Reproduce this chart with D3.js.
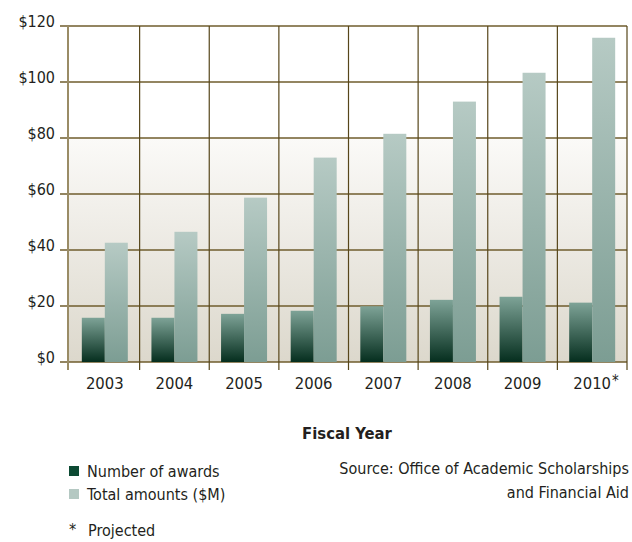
<!DOCTYPE html>
<html>
<head>
<meta charset="utf-8">
<script src="https://cdn.jsdelivr.net/npm/d3@7"></script>
<style>
  body { margin: 0; background: #fff; }
  text { font-family: "Liberation Sans Narrow", "DejaVu Sans Condensed", sans-serif; fill: #231f20; }
</style>
</head>
<body>
<div id="chart"></div>
<script>
// data
var years      = ["2003", "2004", "2005", "2006", "2007", "2008", "2009", "2010"];
var projected  = ["2010"];
var awards     = [15.8, 15.8, 17.2, 18.3, 19.9, 22.2, 23.3, 21.2];
var totals     = [42.6, 46.5, 58.7, 73.0, 81.5, 93.0, 103.3, 115.8];
var yTicks     = [0, 20, 40, 60, 80, 100, 120];
var seriesKeys = ["awards", "totals"];
var seriesNames = ["Number of awards", "Total amounts ($M)"];
var sourceLines = ["Source: Office of Academic Scholarships", "and Financial Aid"];

var w = 632, h = 542;
var svg = d3.select("#chart").append("svg")
    .attr("width", w)
    .attr("height", h);

var defs = svg.append("defs");
function grad(id, top, bottom) {
  var g = defs.append("linearGradient").attr("id", id)
      .attr("x1", 0).attr("y1", 0).attr("x2", 0).attr("y2", 1);
  g.append("stop").attr("offset", "0%").attr("stop-color", top);
  g.append("stop").attr("offset", "100%").attr("stop-color", bottom);
}
grad("bg", "#fbfaf8", "#dcd8cc");
grad("darkBar", "#7ea397", "#052e1e");
grad("lightBar", "#b6cac4", "#7c9d93");

// scales
var x = d3.scaleBand().domain(years).range([70, 627]);
var x1 = d3.scaleBand().domain(seriesKeys).range([0, 46]);
var y = d3.scaleLinear().domain([0, 120]).range([362, 26]);

// background: white on top, soft gradient below $80
svg.append("rect")
    .attr("x", 68).attr("y", y(80))
    .attr("width", 627 - 68).attr("height", y(0) - y(80))
    .attr("fill", "url(#bg)");

// horizontal grid lines
svg.append("g").selectAll("line")
  .data(yTicks)
  .enter().append("line")
    .attr("x1", 60).attr("x2", 627)
    .attr("y1", function(d){ return y(d); })
    .attr("y2", function(d){ return y(d); })
    .attr("stroke", "#6f5d2c")
    .attr("stroke-width", 1.5);

// vertical grid lines at band edges
var edges = years.map(function(d){ return x(d); }).concat([x.range()[1]]);
svg.append("g").selectAll("line")
  .data(edges)
  .enter().append("line")
    .attr("x1", function(d, i){ return i === 0 ? 68 : d; })
    .attr("x2", function(d, i){ return i === 0 ? 68 : d; })
    .attr("y1", y(120)).attr("y2", 370)
    .attr("stroke", function(d, i){ return i === 0 ? "#9a8c66" : "#57461a"; })
    .attr("stroke-width", function(d, i){ return i === 0 ? 2 : 1.2; });

// bars
var rows = years.map(function(yr, i){ return { year: yr, awards: awards[i], totals: totals[i] }; });
var groups = svg.append("g").selectAll("g")
  .data(rows)
  .enter().append("g")
    .attr("transform", function(d){ return "translate(" + (x(d.year) + x.bandwidth() / 2 - 23) + ",0)"; });

groups.selectAll("rect")
  .data(function(d){ return seriesKeys.map(function(k){ return { key: k, value: d[k] }; }); })
  .enter().append("rect")
    .attr("x", function(d){ return x1(d.key); })
    .attr("width", x1.bandwidth())
    .attr("y", function(d){ return y(d.value); })
    .attr("height", function(d){ return y(0) - y(d.value); })
    .attr("fill", function(d){ return d.key === "awards" ? "url(#darkBar)" : "url(#lightBar)"; });

// y labels
svg.append("g").selectAll("text")
  .data(yTicks)
  .enter().append("text")
    .attr("x", 55)
    .attr("y", function(d){ return y(d) + 1; })
    .attr("text-anchor", "end")
    .style("font-size", "16px")
    .text(function(d){ return "$" + d; });

// x labels, the projected year gets an asterisk after it
var xl = svg.append("g").selectAll("text")
  .data(years)
  .enter().append("text")
    .attr("x", function(d){ return x(d) + x.bandwidth() / 2; })
    .attr("y", 389)
    .attr("text-anchor", "middle")
    .style("font-size", "16.5px")
    .text(function(d){ return d; });
xl.filter(function(d){ return projected.indexOf(d) >= 0; })
  .each(function(d){
    var half = this.getComputedTextLength() / 2;
    svg.append("text")
        .attr("x", x(d) + x.bandwidth() / 2 + half + 1)
        .attr("y", 386)
        .style("font-size", "15px")
        .text("*");
  });

// axis title
svg.append("text")
    .attr("x", 347).attr("y", 439)
    .attr("text-anchor", "middle")
    .style("font-size", "16.5px")
    .style("font-weight", "bold")
    .text("Fiscal Year");

// legend
var legend = svg.append("g").selectAll("g")
  .data(seriesNames)
  .enter().append("g")
    .attr("transform", function(d, i){ return "translate(69," + (466 + i * 23) + ")"; });
legend.append("rect")
    .attr("width", 10).attr("height", 10)
    .attr("fill", function(d, i){ return i === 0 ? "#0c4a33" : "#b4c8c2"; });
legend.append("text")
    .attr("x", 18).attr("y", 11)
    .style("font-size", "16px")
    .text(function(d){ return d; });

svg.append("text")
    .attr("x", 69).attr("y", 535)
    .style("font-size", "16px")
    .text("*");
svg.append("text")
    .attr("x", 88).attr("y", 536)
    .style("font-size", "16px")
    .text("Projected");

// source note
svg.append("g").selectAll("text")
  .data(sourceLines)
  .enter().append("text")
    .attr("x", 629)
    .attr("y", function(d, i){ return 474 + i * 24; })
    .attr("text-anchor", "end")
    .style("font-size", "16px")
    .text(function(d){ return d; });
</script>
</body>
</html>
